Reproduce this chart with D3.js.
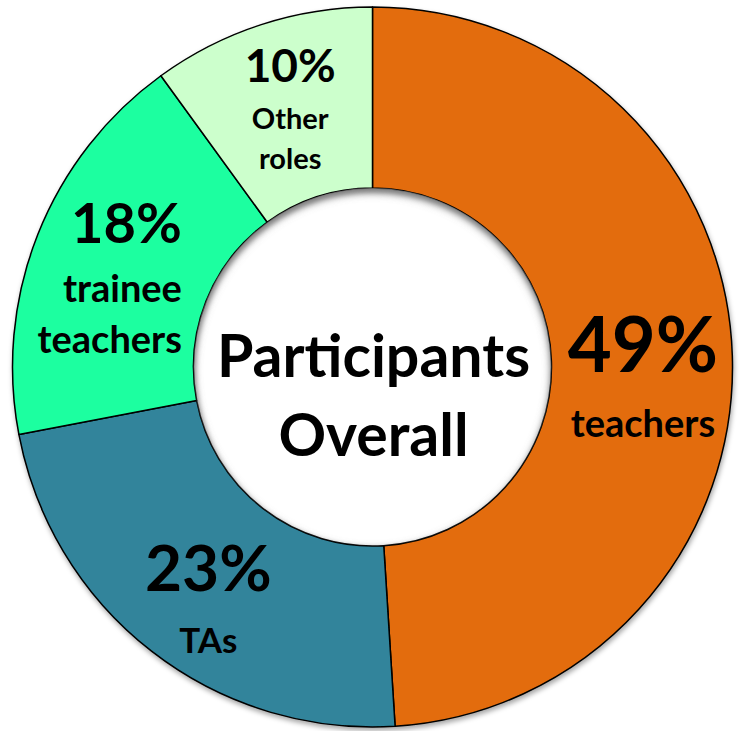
<!DOCTYPE html>
<html>
<head>
<meta charset="utf-8">
<script src="https://cdn.jsdelivr.net/npm/d3@7"></script>
<style>
  body { margin: 0; background: #fff; }
  svg text { font-family: Lato, "Open Sans", sans-serif; font-weight: 700; fill: #000; }
</style>
</head>
<body>
<div id="chart"></div>
<script>
// --- Data
const categories = ["teachers", "TAs", "trainee teachers", "Other roles"];
const shares = [49, 23, 18, 10];
const nameLines = [["teachers"], ["TAs"], ["trainee", "teachers"], ["Other", "roles"]];
const sliceColors = ["#E36C0A", "#31849B", "#1AFFA0", "#CCFFCC"];
const centerTitle = ["Participants", "Overall"];

// --- Layout
const width = 743;
const height = 731;
const cx = 372.5;
const cy = 367;
const outerR = 360;
const innerR = 179;

// label tweaks relative to the arc centroid (baseline of the percent line)
const labelStyle = [
  { anchor: "middle", dx: 1, dy: 13, pct: 76, name: 38, gap: 65 },
  { anchor: "middle", dx: 1, dy: 11, pct: 64, name: 35, gap: 62 },
  { anchor: "end", dx: 60, dy: -25, pct: 56, name: 38, gap: [59, 51] },
  { anchor: "middle", dx: 1, dy: -29, pct: 46, name: 29, gap: [47, 40] }
];

const svg = d3.select("#chart")
  .append("svg")
  .attr("width", width)
  .attr("height", height)
  .attr("viewBox", [0, 0, width, height]);

const defs = svg.append("defs");

const shadow = defs.append("filter")
  .attr("id", "outerShadow")
  .attr("x", "-10%").attr("y", "-10%")
  .attr("width", "120%").attr("height", "120%");
shadow.append("feDropShadow")
  .attr("dx", 1).attr("dy", 3)
  .attr("stdDeviation", 2.5)
  .attr("flood-color", "#000")
  .attr("flood-opacity", 0.35);

defs.append("filter")
  .attr("id", "blur")
  .append("feGaussianBlur")
  .attr("stdDeviation", 4);

defs.append("clipPath")
  .attr("id", "holeClip")
  .append("circle")
  .attr("cx", cx).attr("cy", cy).attr("r", innerR);

const pie = d3.pie()
  .sort(null)
  .value(d => d);

const arc = d3.arc()
  .innerRadius(innerR)
  .outerRadius(outerR);

const arcs = pie(shares);

const g = svg.append("g")
  .attr("transform", `translate(${cx}, ${cy})`);

// donut with a soft shadow behind
g.append("g")
  .attr("filter", "url(#outerShadow)")
  .selectAll("path")
  .data(arcs)
  .join("path")
  .attr("d", arc)
  .attr("fill", (d, i) => sliceColors[i])
  .attr("stroke", "#000")
  .attr("stroke-width", 1.5)
  .attr("stroke-linejoin", "round");

// inner shadow in the hole
svg.append("g")
  .attr("clip-path", "url(#holeClip)")
  .append("circle")
  .attr("cx", cx)
  .attr("cy", cy + 4)
  .attr("r", innerR + 8)
  .attr("fill", "none")
  .attr("stroke", "#777")
  .attr("stroke-width", 16)
  .attr("filter", "url(#blur)");

// slice labels
const labels = g.append("g")
  .attr("class", "labels")
  .selectAll("text")
  .data(arcs)
  .join("text")
  .attr("text-anchor", (d, i) => labelStyle[i].anchor)
  .attr("transform", (d, i) => {
    const [x, y] = arc.centroid(d);
    return `translate(${x + labelStyle[i].dx}, ${y + labelStyle[i].dy})`;
  });

labels.append("tspan")
  .attr("x", 0)
  .attr("y", 0)
  .style("font-size", (d, i) => labelStyle[i].pct + "px")
  .text(d => d.data + "%");

labels.each(function(d, i) {
  const st = labelStyle[i];
  const gaps = Array.isArray(st.gap) ? st.gap : [st.gap];
  let y = 0;
  nameLines[i].forEach((line, j) => {
    y += gaps[j];
    d3.select(this).append("tspan")
      .attr("x", 0)
      .attr("y", y)
      .style("font-size", st.name + "px")
      .text(line);
  });
});

// title in the middle
svg.append("text")
  .attr("text-anchor", "middle")
  .style("font-size", "59px")
  .selectAll("tspan")
  .data(centerTitle)
  .join("tspan")
  .attr("x", cx + 1)
  .attr("y", (d, i) => 377 + i * 79)
  .text(d => d);
</script>
</body>
</html>
